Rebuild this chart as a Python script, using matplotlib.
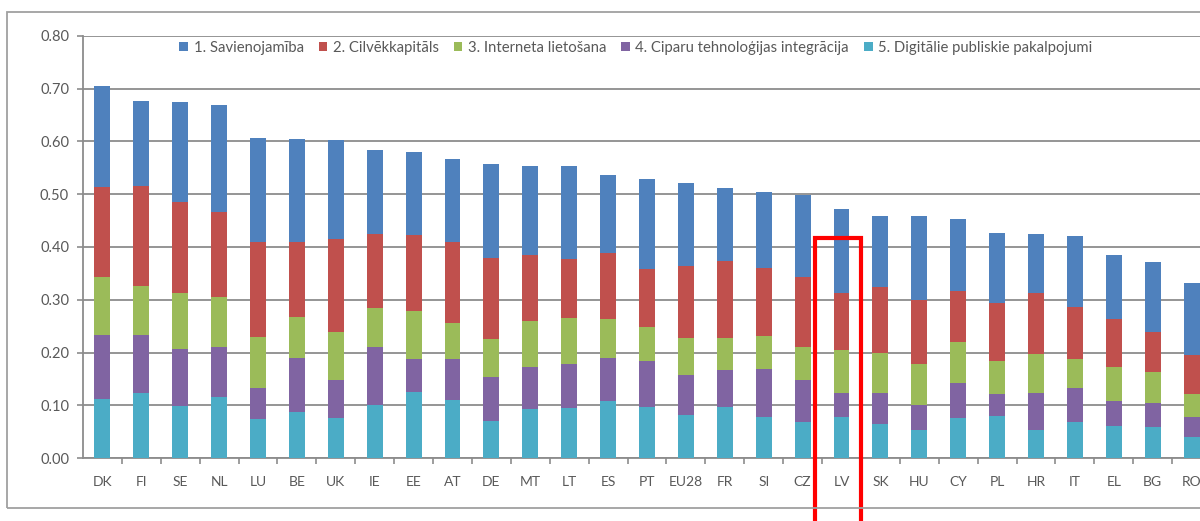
import matplotlib.pyplot as plt
import numpy as np
from matplotlib.patches import Rectangle, Patch

plt.rcParams['font.family'] = ['Lato', 'DejaVu Sans']

valstis = ['DK', 'FI', 'SE', 'NL', 'LU', 'BE', 'UK', 'IE', 'EE', 'AT', 'DE', 'MT', 'LT', 'ES', 'PT',
           'EU28', 'FR', 'SI', 'CZ', 'LV', 'SK', 'HU', 'CY', 'PL', 'HR', 'IT', 'EL', 'BG', 'RO']

# 5. Digitālie publiskie pakalpojumi (apakšā)
publiskie = [0.111, 0.123, 0.099, 0.115, 0.073, 0.087, 0.075, 0.100, 0.126, 0.110, 0.070, 0.093, 0.094, 0.109, 0.097,
             0.082, 0.097, 0.078, 0.068, 0.078, 0.064, 0.053, 0.076, 0.079, 0.054, 0.068, 0.061, 0.059, 0.040]
# 4. Ciparu tehnoloģijas integrācija
integracija = [0.123, 0.110, 0.107, 0.095, 0.059, 0.102, 0.073, 0.111, 0.062, 0.078, 0.084, 0.079, 0.085, 0.081, 0.087,
               0.075, 0.069, 0.091, 0.080, 0.046, 0.060, 0.048, 0.066, 0.042, 0.069, 0.064, 0.047, 0.045, 0.037]
# 3. Interneta lietošana
internets = [0.110, 0.094, 0.106, 0.095, 0.097, 0.079, 0.090, 0.074, 0.091, 0.067, 0.072, 0.088, 0.086, 0.073, 0.065,
             0.071, 0.062, 0.062, 0.063, 0.080, 0.075, 0.078, 0.077, 0.062, 0.075, 0.055, 0.065, 0.059, 0.044]
# 2. Cilvēkkapitāls
cilvekkapitals = [0.170, 0.189, 0.174, 0.161, 0.181, 0.142, 0.177, 0.139, 0.144, 0.154, 0.153, 0.124, 0.112, 0.125, 0.110,
                  0.136, 0.146, 0.130, 0.132, 0.108, 0.125, 0.121, 0.097, 0.111, 0.114, 0.099, 0.091, 0.076, 0.074]
# 1. Savienojamība (augšā)
savienojamiba = [0.192, 0.161, 0.188, 0.204, 0.197, 0.195, 0.187, 0.160, 0.157, 0.158, 0.178, 0.170, 0.176, 0.149, 0.169,
                 0.158, 0.138, 0.143, 0.156, 0.160, 0.135, 0.158, 0.137, 0.132, 0.113, 0.134, 0.120, 0.132, 0.136]

nosaukumi = ['1. Savienojamība', '2. Cilvēkkapitāls', '3. Interneta lietošana',
             '4. Ciparu tehnoloģijas integrācija', '5. Digitālie publiskie pakalpojumi']
krasas = ['#4F81BD', '#C0504D', '#9BBB59', '#8064A2', '#4BACC6']
teksta_krasa = '#595959'
rezga_krasa = '#8C8C8C'

fig = plt.figure(figsize=(12, 5.21), dpi=100)
# ass iziet arpus attela labaja pusē (ekrānšāviņš ir apgriezts)
ax = fig.add_axes([83/1200, 63/521, 1128/1200, 422/521])

x = np.arange(len(valstis))
slani = [publiskie, integracija, internets, cilvekkapitals, savienojamiba]
slanu_krasas = [krasas[4], krasas[3], krasas[2], krasas[1], krasas[0]]
apaksa = np.zeros(len(valstis))
for dati, kr in zip(slani, slanu_krasas):
    ax.bar(x, dati, width=0.41, bottom=apaksa, color=kr, zorder=3)
    apaksa = apaksa + np.array(dati)

ax.set_xlim(-0.5, len(valstis) - 0.5)
ax.set_ylim(0, 0.8)
ax.set_yticks(np.arange(0, 0.81, 0.1))
ax.set_yticklabels(['%.2f' % v for v in np.arange(0, 0.81, 0.1)])
ax.yaxis.grid(True, color=rezga_krasa, linewidth=1.3, zorder=0)
ax.set_xticks(x)
ax.set_xticklabels(valstis)
ax.set_xticks(np.arange(0.5, len(valstis)), minor=True)
ax.tick_params(axis='x', which='major', length=0, pad=13, labelsize=10, labelcolor=teksta_krasa)
ax.tick_params(axis='x', which='minor', length=4, color=rezga_krasa, width=1.2)
ax.tick_params(axis='y', length=4, color=rezga_krasa, width=1.2, pad=6, labelsize=10.5, labelcolor=teksta_krasa)

for s in ['top', 'right']:
    ax.spines[s].set_visible(False)
for s in ['left', 'bottom']:
    ax.spines[s].set_color(rezga_krasa)
    ax.spines[s].set_linewidth(1.3)

rokturi = [Patch(facecolor=k, edgecolor='none') for k in krasas]
ax.legend(rokturi, nosaukumi, loc='center', bbox_to_anchor=(0.490, 0.972), ncol=5, frameon=False,
          fontsize=10.7, handlelength=0.6, handleheight=0.6, handletextpad=0.35, columnspacing=1.0,
          labelcolor=teksta_krasa)

# sarkanais rāmis ap LV
ax.add_patch(Rectangle((18.33, -0.15), 1.16, 0.417 + 0.15, fill=False, edgecolor='#FF0000',
                       linewidth=3, clip_on=False, zorder=5))

# diagrammas ārējā rāmja līnija
fig.patches.append(Rectangle((7/1200, 13/521), 1.2, 496/521, transform=fig.transFigure,
                             fill=False, edgecolor='#A0A0A0', linewidth=1.3))

fig.savefig('out.png', dpi=100)
